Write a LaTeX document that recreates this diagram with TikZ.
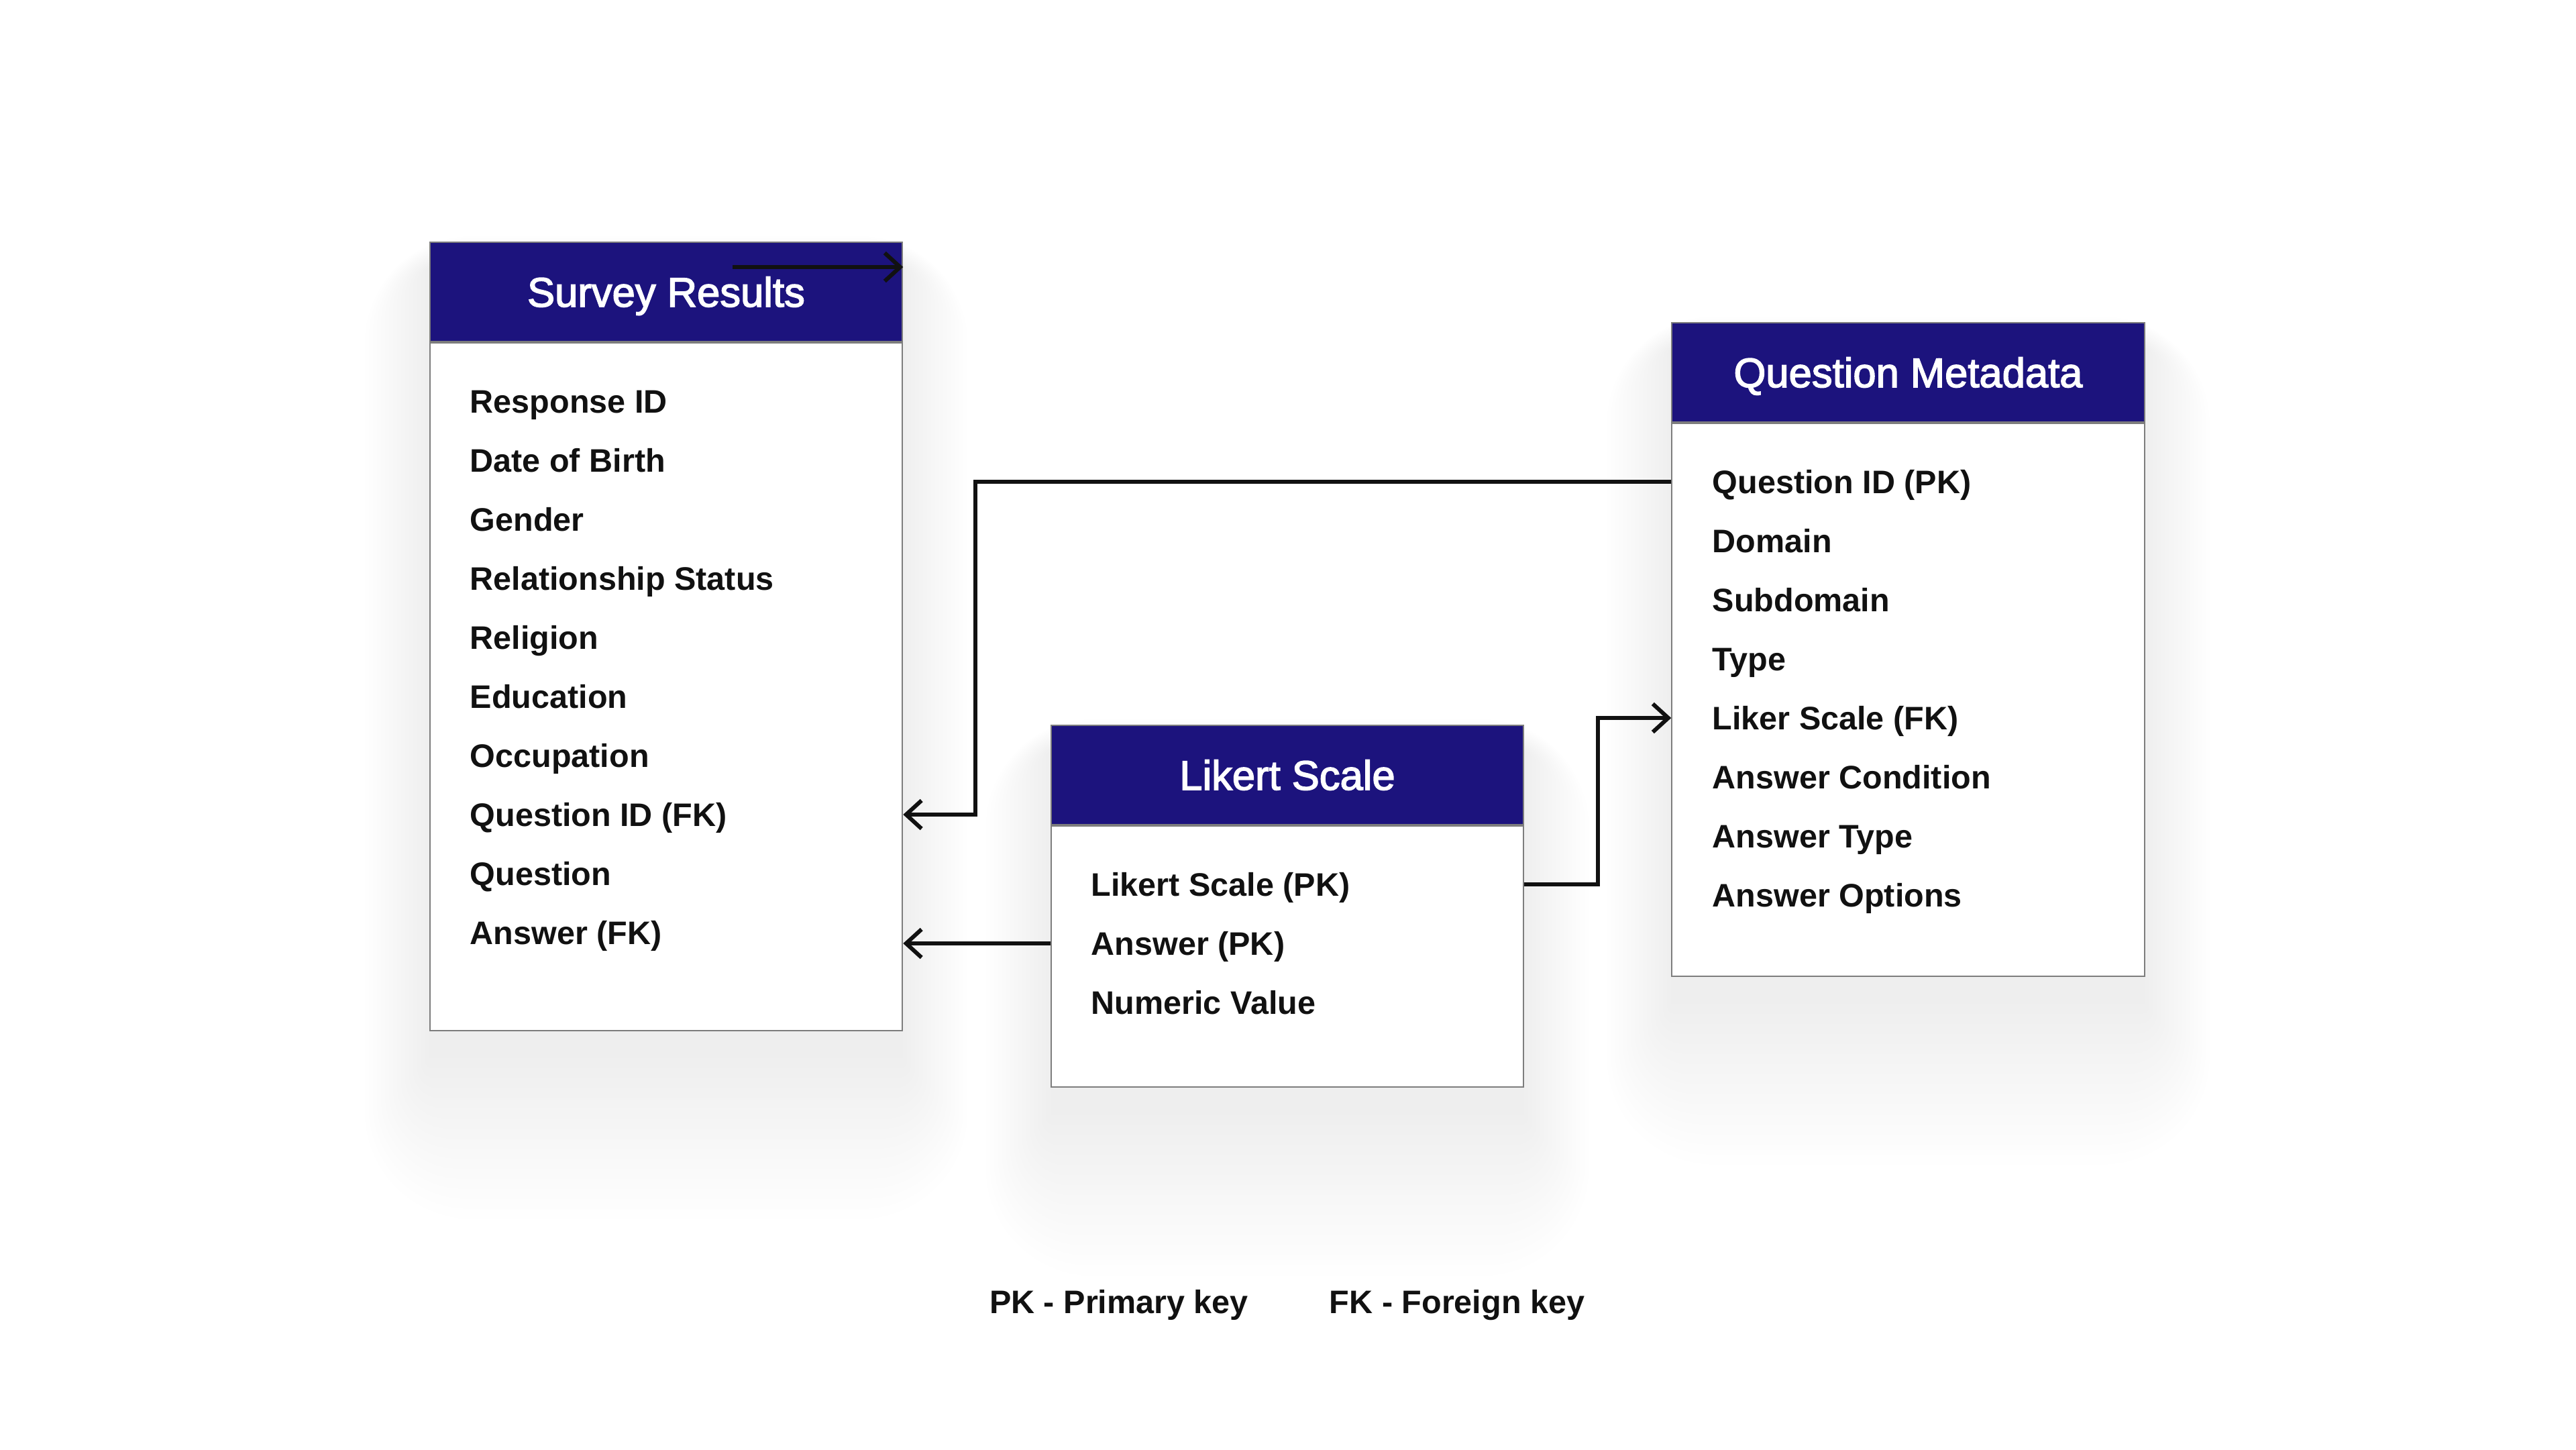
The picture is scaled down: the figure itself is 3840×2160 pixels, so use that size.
\documentclass[tikz,border=0pt]{standalone}
\usepackage{fontspec}
\setmainfont{Liberation Sans}
\newfontfamily\hdrfont{Liberation Sans}[FakeBold=2.5]
\usetikzlibrary{arrows.meta,calc}
\definecolor{hdr}{RGB}{28,19,125}
\definecolor{bord}{RGB}{125,125,125}
\definecolor{ink}{RGB}{17,17,17}
\pgfdeclarelayer{canvas}
\pgfdeclarelayer{bg}
\pgfsetlayers{canvas,bg,main}
\newcommand{\boxshadow}[2]{%
  \foreach \i in {0,...,16}{%
    \fill[black, opacity=0.0055, rounded corners=\i*0.1cm]
      ($(#1)+(-6*\i,40-3*\i)$) rectangle ($(#2)+(6*\i,40+15*\i)$);
  }}
\begin{document}
\begin{tikzpicture}[x=0.01cm,y=-0.01cm,
 hdrbox/.style={draw=bord, line width=0.6pt, fill=hdr, text=white, minimum width=7.04cm, minimum height=1.48cm, inner sep=0pt, text height=0.44cm, text depth=0pt, font=\hdrfont\fontsize{17.5}{20}\selectfont},
 bodybox/.style={draw=bord, line width=0.6pt, fill=white, minimum width=7.04cm, inner sep=0pt, anchor=north},
 row/.style={anchor=west, inner sep=0pt, text height=0.35cm, text depth=0pt, text=ink, font=\fontsize{13.8}{16}\selectfont\bfseries},
 legend/.style={anchor=center, inner sep=0pt, text height=0.35cm, text depth=0pt, text=ink, font=\fontsize{13.8}{16}\selectfont\bfseries},
 conn/.style={draw=ink, line width=1.7pt, -{Straight Barb[length=0.23cm,width=0.42cm,line width=1.7pt]}}]
\begin{pgfonlayer}{canvas}
\useasboundingbox[fill=white] (0,0) rectangle (3840,2160);
\end{pgfonlayer}

% Survey Results
\node[hdrbox] (sr) at (993,435) {Survey Results};
\node[bodybox, minimum height=10.24cm] (srb) at (sr.south) {};
% Likert Scale
\node[hdrbox] (ls) at (1919,1155) {Likert Scale};
\node[bodybox, minimum height=3.89cm] (lsb) at (ls.south) {};
% Question Metadata
\node[hdrbox] (qm) at (2844.5,555) {Question Metadata};
\node[bodybox, minimum height=8.23cm] (qmb) at (qm.south) {};

\begin{pgfonlayer}{bg}
\boxshadow{sr.north west}{srb.south east}
\boxshadow{ls.north west}{lsb.south east}
\boxshadow{qm.north west}{qmb.south east}
\end{pgfonlayer}

\node[row] (sr1) at (700,598) {Response ID};
\node[row] (sr2) at (700,686) {Date of Birth};
\node[row] (sr3) at (700,774) {Gender};
\node[row] (sr4) at (700,862) {Relationship Status};
\node[row] (sr5) at (700,950) {Religion};
\node[row] (sr6) at (700,1038) {Education};
\node[row] (sr7) at (700,1126) {Occupation};
\node[row] (sr8) at (700,1214) {Question ID (FK)};
\node[row] (sr9) at (700,1302) {Question};
\node[row] (sr10) at (700,1390) {Answer (FK)};

\node[row] (ls1) at (1626,1318) {Likert Scale (PK)};
\node[row] (ls2) at (1626,1406) {Answer (PK)};
\node[row] (ls3) at (1626,1494) {Numeric Value};

\node[row] (qm1) at (2552,718) {Question ID (PK)};
\node[row] (qm2) at (2552,806) {Domain};
\node[row] (qm3) at (2552,894) {Subdomain};
\node[row] (qm4) at (2552,982) {Type};
\node[row] (qm5) at (2552,1070) {Liker Scale (FK)};
\node[row] (qm6) at (2552,1158) {Answer Condition};
\node[row] (qm7) at (2552,1246) {Answer Type};
\node[row] (qm8) at (2552,1334) {Answer Options};

\node[legend] (pk) at (1668,1940) {PK - Primary key};
\node[legend] (fk) at (2172,1940) {FK - Foreign key};

% connectors
\coordinate (j1) at (1454,0);
\coordinate (j2) at (2382,0);
\coordinate (stray) at (1092,398);
\draw[conn] (qmb.west |- qm1) -- (j1 |- qm1) -- (j1 |- sr8) -- (srb.east |- sr8);
\draw[conn] (lsb.west |- ls2) -- (srb.east |- ls2);
\draw[conn] (lsb.east |- ls1) -- (j2 |- ls1) -- (j2 |- qm5) -- (qmb.west |- qm5);
\draw[conn] (stray) -- (sr.east |- stray);
\end{tikzpicture}
\end{document}
